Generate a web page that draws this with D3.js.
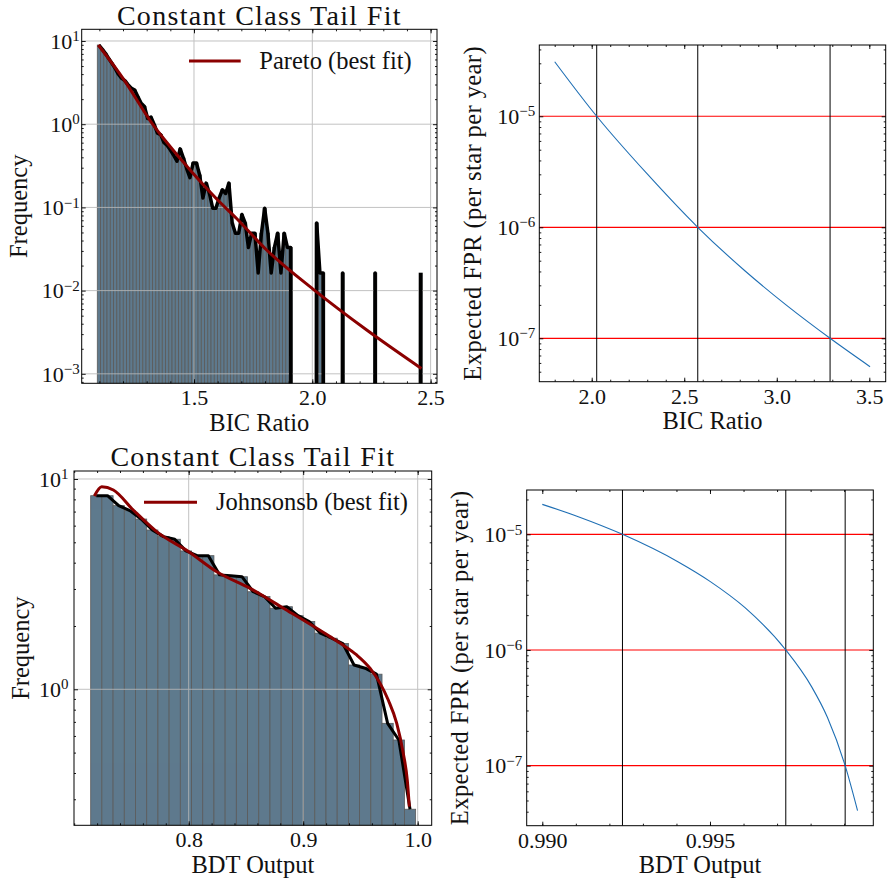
<!DOCTYPE html>
<html><head><meta charset="utf-8">
<script src="https://cdn.jsdelivr.net/npm/d3@7"></script>
<style>
body{margin:0;background:#fff}
svg{display:block}
text{font-family:"Liberation Serif","Times New Roman",serif;fill:#111}
</style>
</head><body>
<svg id="c" width="887" height="881"></svg>
<script>
// ---------------- DATA ----------------
const titleText = "Constant Class Tail Fit";
const freqLabel = "Frequency";
const fprLabel = "Expected FPR (per star per year)";
const bicLabel = "BIC Ratio";
const bdtLabel = "BDT Output";
const paretoLegend = "Pareto (best fit)";
const johnsonLegend = "Johnsonsb (best fit)";

// top-left histogram: 100 bins between these edges
const bicBinStart = 1.0913, bicBinEnd = 2.4649;
const bicFreq = [
 8.95, 8.00, 7.11, 6.19, 5.40, 4.69, 3.98, 3.55, 3.34, 2.97,
 2.71, 2.58, 2.14, 1.78, 1.63, 1.17, 1.22, 0.994, 0.782, 0.750,
 0.603, 0.554, 0.489, 0.424, 0.359, 0.505, 0.391, 0.293, 0.228, 0.342,
 0.342, 0.245, 0.130, 0.196, 0.147, 0.098, 0.098, 0.130, 0.163, 0.147,
 0.196, 0.065, 0.049, 0.049, 0.082, 0.065, 0.033, 0.049, 0.049, 0.0163,
 0.049, 0.098, 0.049, 0.0163, 0.033, 0.049, 0.0163, 0.049, 0.033, 0.033,
 0, 0, 0, 0, 0, 0, 0, 0.065, 0.0163, 0.0163,
 0, 0, 0, 0, 0, 0.0163, 0, 0, 0, 0,
 0, 0, 0, 0, 0, 0.0163, 0, 0, 0, 0,
 0, 0, 0, 0, 0, 0, 0, 0, 0, 0.0163
];
const paretoX = [1.0955, 1.20, 1.325, 1.45, 1.596, 1.679, 1.807, 2.011, 2.23, 2.461];
const paretoY = [8.95, 3.55, 1.0, 0.363, 0.126, 0.074, 0.0308, 0.0100, 0.00336, 0.00116];

// bottom-left histogram: 29 bins
const bdtBinStart = 0.7144, bdtBinEnd = 0.9982;
const bdtFreq = [8.33, 8.33, 7.47, 7.07, 6.45, 5.72, 5.32, 5.17, 4.55, 4.32,
 4.32, 3.50, 3.47, 3.43, 2.91, 2.76, 2.43, 2.47, 2.24, 2.10,
 1.85, 1.75, 1.65, 1.305, 1.26, 1.18, 0.689, 0.574, 0.269];
const johnsonX = [0.7176, 0.7240, 0.7342, 0.7516, 0.7720, 0.8000, 0.8245, 0.8536, 0.8827, 0.9234,
 0.9350, 0.9467, 0.9583, 0.9671, 0.9743, 0.9817, 0.9874, 0.9909, 0.9927];
const johnsonY = [8.30, 9.19, 8.87, 7.12, 5.62, 4.51, 3.62, 3.02, 2.43, 1.78,
 1.62, 1.456, 1.26, 1.07, 0.889, 0.689, 0.496, 0.37, 0.277];

// top-right FPR curve
const bicCurveX = [1.80, 2.027, 2.30, 2.573, 2.829, 3.05, 3.288, 3.504];
const bicCurveFPR = [3.10e-5, 1e-5, 3.02e-6, 1e-6, 4.04e-7, 2.0e-7, 1e-7, 5.55e-8];
const bicThresholds = [2.027, 2.573, 3.288];

// bottom-right FPR curve
const bdtCurveX = [0.99000, 0.991073, 0.99239, 0.994055, 0.99500, 0.996044, 0.99726, 0.998032, 0.99850, 0.99903, 0.99940];
const bdtCurveFPR = [1.815e-5, 1.42e-5, 1e-5, 5.77e-6, 3.92e-6, 2.32e-6, 1e-6, 4.8e-7, 2.62e-7, 1e-7, 4.08e-8];
const bdtThresholds = [0.99239, 0.99726, 0.99903];

const fprLevels = [1e-5, 1e-6, 1e-7];

// ticks
const tlXTicks = [1.5, 2.0, 2.5], tlXLabels = ["1.5", "2.0", "2.5"];
const tlYTicks = [1e-3, 1e-2, 1e-1, 1, 10], tlYExp = ["−3", "−2", "−1", "0", "1"];
const trXTicks = [2.0, 2.5, 3.0, 3.5], trXLabels = ["2.0", "2.5", "3.0", "3.5"];
const blXTicks = [0.8, 0.9, 1.0], blXLabels = ["0.8", "0.9", "1.0"];
const blYTicks = [1, 10], blYExp = ["0", "1"];
const brXTicks = [0.990, 0.995], brXLabels = ["0.990", "0.995"];
const fprYTicks = [1e-7, 1e-6, 1e-5], fprYExp = ["−7", "−6", "−5"];

// ---------------- DRAWING ----------------
const svg = d3.select("#c");
const defs = svg.append("defs");
const FONT = '"Liberation Serif","Times New Roman",serif';
const TICK_FS = 22, SUP_FS = 15, LAB_FS = 24.5, TITLE_FS = 28;
const BAR_FILL = "#5e7a8d", BAR_EDGE = "#5b5b5b";
const DARKRED = "#8b0000";
let clipN = 0;

function logMinor(domain) {
  const lo = Math.min(...domain), hi = Math.max(...domain);
  const out = [];
  for (let e = Math.floor(Math.log10(lo)) - 1; e <= Math.ceil(Math.log10(hi)); e++)
    for (let k = 2; k <= 9; k++) { const v = k * Math.pow(10, e); if (v >= lo && v <= hi) out.push(v); }
  return out;
}
function linMinor(domain, step) {
  const out = [];
  const start = Math.ceil(domain[0] / step - 1e-9);
  for (let i = start; i * step <= domain[1] + 1e-12; i++) out.push(+(i * step).toFixed(6));
  return out;
}

function makePanel(cfg) {
  const b = cfg.box;
  const g = svg.append("g");
  const x = d3.scaleLinear().domain(cfg.xDomain).range([b.left, b.right]);
  const y = d3.scaleLog().domain(cfg.yDomain).range([b.bottom, b.top]);
  const id = "clip" + (clipN++);
  defs.append("clipPath").attr("id", id).append("rect")
    .attr("x", b.left).attr("y", b.top).attr("width", b.right - b.left).attr("height", b.bottom - b.top);
  const plot = g.append("g").attr("clip-path", `url(#${id})`);
  return { g, plot, x, y, b };
}

function drawAxes(p, cfg) {
  const { g, x, y, b } = p;
  const styleAxis = sel => { sel.select(".domain").remove(); sel.selectAll("line").attr("stroke", "#000").attr("stroke-width", 0.9); };
  const xm = cfg.xMinor, ym = logMinor(y.domain());
  g.append("g").attr("transform", `translate(0,${b.bottom})`).call(d3.axisBottom(x).tickValues(xm).tickSize(-2).tickFormat("")).call(styleAxis);
  g.append("g").attr("transform", `translate(0,${b.top})`).call(d3.axisTop(x).tickValues(xm).tickSize(-2).tickFormat("")).call(styleAxis);
  g.append("g").attr("transform", `translate(${b.left},0)`).call(d3.axisLeft(y).tickValues(ym).tickSize(-2).tickFormat("")).call(styleAxis);
  g.append("g").attr("transform", `translate(${b.right},0)`).call(d3.axisRight(y).tickValues(ym).tickSize(-2).tickFormat("")).call(styleAxis);
  const xb = g.append("g").attr("transform", `translate(0,${b.bottom})`)
    .call(d3.axisBottom(x).tickValues(cfg.xTicks).tickSize(-4).tickFormat((d, i) => cfg.xLabels[i])).call(styleAxis);
  xb.selectAll("text").attr("y", 22).attr("dy", null).attr("font-size", TICK_FS)
    .attr("font-family", FONT).attr("fill", "#111");
  g.append("g").attr("transform", `translate(0,${b.top})`).call(d3.axisTop(x).tickValues(cfg.xTicks).tickSize(-4).tickFormat("")).call(styleAxis);
  g.append("g").attr("transform", `translate(${b.right},0)`).call(d3.axisRight(y).tickValues(cfg.yTicks).tickSize(-4).tickFormat("")).call(styleAxis);
  const yl = g.append("g").attr("transform", `translate(${b.left},0)`)
    .call(d3.axisLeft(y).tickValues(cfg.yTicks).tickSize(-4).tickPadding(cfg.yPad).tickFormat("")).call(styleAxis);
  yl.selectAll("text").attr("font-size", TICK_FS).attr("font-family", FONT)
    .attr("fill", "#111").attr("dy", 7.2)
    .each(function (d, i) {
      const t = d3.select(this); t.text(null);
      t.append("tspan").text("10");
      t.append("tspan").attr("dy", -7.5).attr("font-size", SUP_FS).text(cfg.yExp[i]);
    });
  g.append("rect").attr("x", b.left).attr("y", b.top).attr("width", b.right - b.left).attr("height", b.bottom - b.top)
    .attr("fill", "none").attr("stroke", "#000").attr("stroke-width", 1);
  g.append("text").attr("x", (b.left + b.right) / 2).attr("y", b.bottom + 47.5).attr("text-anchor", "middle")
    .attr("font-size", LAB_FS).text(cfg.xLabel);
  g.append("text").attr("transform", `translate(${cfg.yLabelX},${(b.top + b.bottom) / 2}) rotate(-90)`)
    .attr("text-anchor", "middle").attr("font-size", LAB_FS).attr("letter-spacing", cfg.yLabelLS || 0).text(cfg.yLabel);
  if (cfg.title) g.append("text").attr("x", (b.left + b.right) / 2).attr("y", cfg.titleY).attr("text-anchor", "middle")
    .attr("font-size", TITLE_FS).attr("letter-spacing", 1.3).text(cfg.title);
}

function grid(p, xt, yt) {
  const gg = p.plot.append("g").attr("stroke", "#b8b8b8").attr("stroke-width", 1).attr("opacity", 0.85);
  xt.forEach(v => gg.append("line").attr("x1", p.x(v)).attr("x2", p.x(v)).attr("y1", p.b.top).attr("y2", p.b.bottom));
  yt.forEach(v => gg.append("line").attr("y1", p.y(v)).attr("y2", p.y(v)).attr("x1", p.b.left).attr("x2", p.b.right));
}

function histogram(p, start, end, vals) {
  const n = vals.length, w = (end - start) / n;
  const edges = d3.range(n + 1).map(i => start + i * w);
  p.plot.append("g").selectAll("rect").data(vals.map((v, i) => ({ v, i })).filter(d => d.v > 0)).join("rect")
    .attr("x", d => p.x(edges[d.i])).attr("width", d => p.x(edges[d.i + 1]) - p.x(edges[d.i]))
    .attr("y", d => p.y(d.v)).attr("height", d => p.b.bottom - p.y(d.v))
    .attr("fill", BAR_FILL).attr("stroke", BAR_EDGE).attr("stroke-width", 0.8);
  return { edges, w };
}

function outline(p, start, w, vals, lw) {
  const line = d3.line().x((v, i) => p.x(start + (i + 0.5) * w)).y(v => v > 0 ? p.y(v) : p.b.bottom + 3000);
  p.plot.append("path").attr("d", line(vals)).attr("fill", "none").attr("stroke", "#000")
    .attr("stroke-width", lw).attr("stroke-linejoin", "round");
}

function curve(p, xs, ys, color, lw) {
  const line = d3.line().x(d => p.x(d[0])).y(d => p.y(d[1])).curve(d3.curveMonotoneX);
  p.plot.append("path").attr("d", line(xs.map((v, i) => [v, ys[i]]))).attr("fill", "none")
    .attr("stroke", color).attr("stroke-width", lw).attr("stroke-linecap", "butt");
}

function legend(p, x1, x2, yLine, txt, tx, ty) {
  p.g.append("line").attr("x1", x1).attr("x2", x2).attr("y1", yLine).attr("y2", yLine)
    .attr("stroke", DARKRED).attr("stroke-width", 3);
  p.g.append("text").attr("x", tx).attr("y", ty).attr("font-size", LAB_FS).text(txt);
}

// ---- top-left ----
{
  const p = makePanel({ box: { left: 81.7, top: 29.3, right: 437, bottom: 383.3 },
    xDomain: [1.0254, 2.527], yDomain: [Math.pow(10, -3.114), Math.pow(10, 1.1406)] });
  const h = histogram(p, bicBinStart, bicBinEnd, bicFreq);
  grid(p, tlXTicks, tlYTicks);
  outline(p, bicBinStart, h.w, bicFreq, 3.5);
  curve(p, paretoX, paretoY, DARKRED, 3);
  legend(p, 189, 240.7, 61, paretoLegend, 259.3, 68.5);
  drawAxes(p, { xTicks: tlXTicks, xLabels: tlXLabels, xMinor: linMinor([1.0254, 2.527], 0.1),
    yTicks: tlYTicks, yExp: tlYExp, yPad: 2, xLabel: bicLabel, yLabel: freqLabel, yLabelX: 26.5,
    title: titleText, titleY: 25 });
}
// ---- bottom-left ----
{
  const p = makePanel({ box: { left: 74, top: 471, right: 431.7, bottom: 825.3 },
    xDomain: [0.69983, 1.01223], yDomain: [Math.pow(10, -0.6467), Math.pow(10, 1.038)] });
  const h = histogram(p, bdtBinStart, bdtBinEnd, bdtFreq);
  grid(p, blXTicks, blYTicks);
  outline(p, bdtBinStart, h.w, bdtFreq, 3);
  curve(p, johnsonX, johnsonY, DARKRED, 3);
  legend(p, 144, 197, 502.3, johnsonLegend, 216, 510);
  drawAxes(p, { xTicks: blXTicks, xLabels: blXLabels, xMinor: linMinor([0.69983, 1.01223], 0.02),
    yTicks: blYTicks, yExp: blYExp, yPad: 5.5, xLabel: bdtLabel, yLabel: freqLabel, yLabelX: 29,
    title: titleText, titleY: 466 });
}
// ---- top-right ----
{
  const p = makePanel({ box: { left: 539.3, top: 45, right: 885.7, bottom: 381.7 },
    xDomain: [1.7168, 3.5886], yDomain: [Math.pow(10, -7.391), Math.pow(10, -4.358)] });
  fprLevels.forEach(v => p.plot.append("line").attr("x1", p.b.left).attr("x2", p.b.right)
    .attr("y1", p.y(v)).attr("y2", p.y(v)).attr("stroke", "#ff0000").attr("stroke-width", 1.2));
  bicThresholds.forEach(v => p.plot.append("line").attr("y1", p.b.top).attr("y2", p.b.bottom)
    .attr("x1", p.x(v)).attr("x2", p.x(v)).attr("stroke", "#000").attr("stroke-width", 1));
  curve(p, bicCurveX, bicCurveFPR, "#1f6fb4", 1.1);
  drawAxes(p, { xTicks: trXTicks, xLabels: trXLabels, xMinor: linMinor([1.7168, 3.5886], 0.1),
    yTicks: fprYTicks, yExp: fprYExp, yPad: 4, xLabel: bicLabel, yLabel: fprLabel, yLabelX: 481, yLabelLS: 0.4 });
}
// ---- bottom-right ----
{
  const p = makePanel({ box: { left: 526.7, top: 490, right: 873.3, bottom: 825.7 },
    xDomain: [0.989535, 0.999869], yDomain: [Math.pow(10, -7.519), Math.pow(10, -4.617)] });
  fprLevels.forEach(v => p.plot.append("line").attr("x1", p.b.left).attr("x2", p.b.right)
    .attr("y1", p.y(v)).attr("y2", p.y(v)).attr("stroke", "#ff0000").attr("stroke-width", 1.2));
  bdtThresholds.forEach(v => p.plot.append("line").attr("y1", p.b.top).attr("y2", p.b.bottom)
    .attr("x1", p.x(v)).attr("x2", p.x(v)).attr("stroke", "#000").attr("stroke-width", 1));
  curve(p, bdtCurveX, bdtCurveFPR, "#1f6fb4", 1.1);
  drawAxes(p, { xTicks: brXTicks, xLabels: brXLabels, xMinor: linMinor([0.989535, 0.999869], 0.001),
    yTicks: fprYTicks, yExp: fprYExp, yPad: 4.4, xLabel: bdtLabel, yLabel: fprLabel, yLabelX: 468, yLabelLS: 0.4 });
}
</script>
</body></html>
